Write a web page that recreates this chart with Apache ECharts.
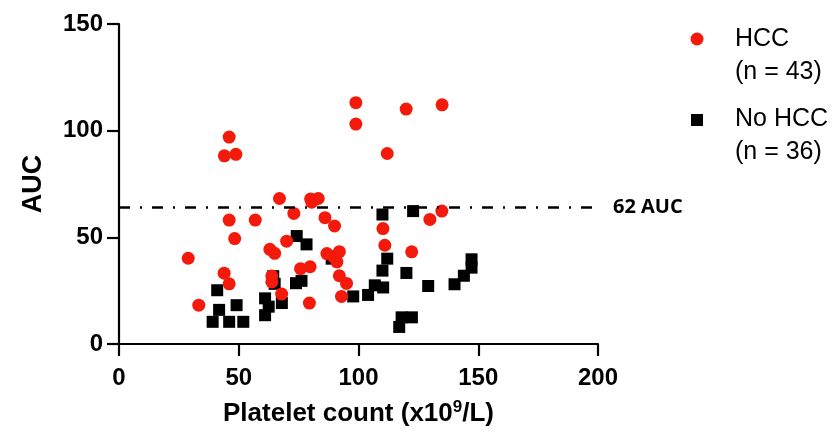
<!DOCTYPE html>
<html>
<head>
<meta charset="utf-8">
<script src="https://cdn.jsdelivr.net/npm/echarts@6/dist/echarts.min.js"></script>
<style>
html,body{margin:0;padding:0;background:#fff;}
#c{width:834px;height:436px;}
</style>
</head>
<body>
<div id="c"></div>
<script>
// HCC: [platelet count, AUC]
var hccX = [46, 44, 48.8, 67, 80, 83.2, 80.5, 73, 46, 56.9, 86, 90, 48.3, 70, 28.9, 63, 65, 43.9, 46, 33.3, 63.8, 63.8, 67.9, 75.8, 79.8, 86.8, 92, 91, 89.5, 92, 95, 92.9, 79.5, 98.9, 98.9, 119.9, 134.9, 112, 110.2, 111, 122.2, 129.8, 134.8];
var hccY = [97, 88.2, 88.9, 68.2, 68, 68.2, 66.5, 61.2, 58.1, 58.1, 59.2, 55.3, 49.4, 48.2, 40.2, 44.4, 42.5, 33.2, 28.2, 18.2, 31.9, 29.1, 23.4, 35.3, 36.2, 42.4, 43.3, 38.5, 41, 32, 28.4, 22.3, 19.2, 113.1, 103.1, 110.1, 112.1, 89.3, 54.1, 46.3, 43.2, 58.4, 62.3];
// No HCC
var noX = [41, 41.8, 39.1, 46, 51.9, 49.1, 61, 62.5, 61, 68, 65, 64.4, 73.9, 76.2, 74.2, 78.3, 88.8, 97.8, 104, 106.8, 110.3, 110, 112, 110, 122.8, 120, 129.1, 140.1, 144, 147.2, 147.2, 117, 118, 122.3];
var noY = [25.2, 16, 10.4, 10.4, 10.4, 18.2, 21.4, 17.5, 13.5, 19.2, 28.2, 31.8, 28.5, 29.6, 50.6, 46.7, 40, 22.3, 23, 27.5, 26.5, 34.4, 40, 60.7, 62.3, 33.3, 27.2, 28, 32, 35.8, 39.7, 8, 12.5, 12.5];
var xTicks = [0, 50, 100, 150, 200];
var yTicks = [0, 50, 100, 150];
var cutoff = 64;
var cutoffLabel = '62 AUC';
var seriesNames = ['HCC', 'No HCC'];
var seriesCounts = [43, 36];

function zip(a, b) { return a.map(function (v, i) { return [v, b[i]]; }); }

var RED = '#f31a0c';
var chart = echarts.init(document.getElementById('c'), null, {renderer: 'canvas'});
var axisFont = {fontFamily: 'Liberation Sans', fontWeight: 'bold', color: '#000', fontSize: 24};
var legText = {fontFamily: 'Liberation Sans', fontSize: 25, fill: '#000', lineHeight: 33, verticalAlign: 'top'};
chart.setOption({
  animation: false,
  backgroundColor: '#fff',
  grid: {left: 119, right: 236, top: 24, bottom: 92, containLabel: false},
  legend: {show: false, data: seriesNames},
  graphic: [
    {type: 'circle', shape: {cx: 697, cy: 39, r: 6.5}, style: {fill: RED}},
    {type: 'text', left: 735, top: 23, style: Object.assign({text: seriesNames[0] + '\n(n = ' + seriesCounts[0] + ')'}, legText)},
    {type: 'rect', shape: {x: 691, y: 114, width: 12, height: 12}, style: {fill: '#000'}},
    {type: 'text', left: 735, top: 103, style: Object.assign({text: seriesNames[1] + '\n(n = ' + seriesCounts[1] + ')'}, legText)}
  ],
  xAxis: {
    type: 'value', min: 0, max: 200, interval: 50,
    splitLine: {show: false},
    axisLine: {show: true, onZero: false, lineStyle: {color: '#000', width: 2.2}},
    axisTick: {show: true, length: 12, lineStyle: {color: '#000', width: 2.2}},
    axisLabel: Object.assign({margin: 22, formatter: function (v) { return xTicks.indexOf(v) >= 0 ? String(v) : ''; }}, axisFont),
    name: 'Platelet count (x10{s|9}/L)', nameLocation: 'middle', nameGap: 55,
    nameTextStyle: {fontFamily: 'Liberation Sans', fontWeight: 'bold', fontSize: 26, color: '#000',
      rich: {s: {fontFamily: 'Liberation Sans', fontWeight: 'bold', fontSize: 17, color: '#000', verticalAlign: 'top', padding: [0, 0, 12, 0]}}}
  },
  yAxis: {
    type: 'value', min: 0, max: 150, interval: 50,
    splitLine: {show: false},
    axisLine: {show: true, onZero: false, lineStyle: {color: '#000', width: 2.2}},
    axisTick: {show: true, length: 12, lineStyle: {color: '#000', width: 2.2}},
    axisLabel: Object.assign({margin: 16, formatter: function (v) { return yTicks.indexOf(v) >= 0 ? String(v) : ''; }}, axisFont),
    name: 'AUC', nameLocation: 'middle', nameGap: 72,
    nameTextStyle: {fontFamily: 'Liberation Sans', fontWeight: 'bold', fontSize: 27, color: '#000'}
  },
  series: [
    {
      name: seriesNames[0], type: 'scatter', symbol: 'circle', symbolSize: 13,
      itemStyle: {color: RED, opacity: 1},
      data: zip(hccX, hccY), z: 3,
      markLine: {
        silent: true, symbol: ['none', 'none'],
        lineStyle: {color: '#000', width: 2.5, type: [11, 10, 2, 10]},
        label: {show: true, position: 'end', distance: 15, formatter: cutoffLabel,
          fontFamily: 'Open Sans', fontWeight: 'bold', fontSize: 20, color: '#000'},
        data: [{yAxis: cutoff}]
      }
    },
    {
      name: seriesNames[1], type: 'scatter', symbol: 'rect', symbolSize: 12,
      itemStyle: {color: '#000', opacity: 1},
      data: zip(noX, noY), z: 2
    }
  ]
});
</script>
</body>
</html>
